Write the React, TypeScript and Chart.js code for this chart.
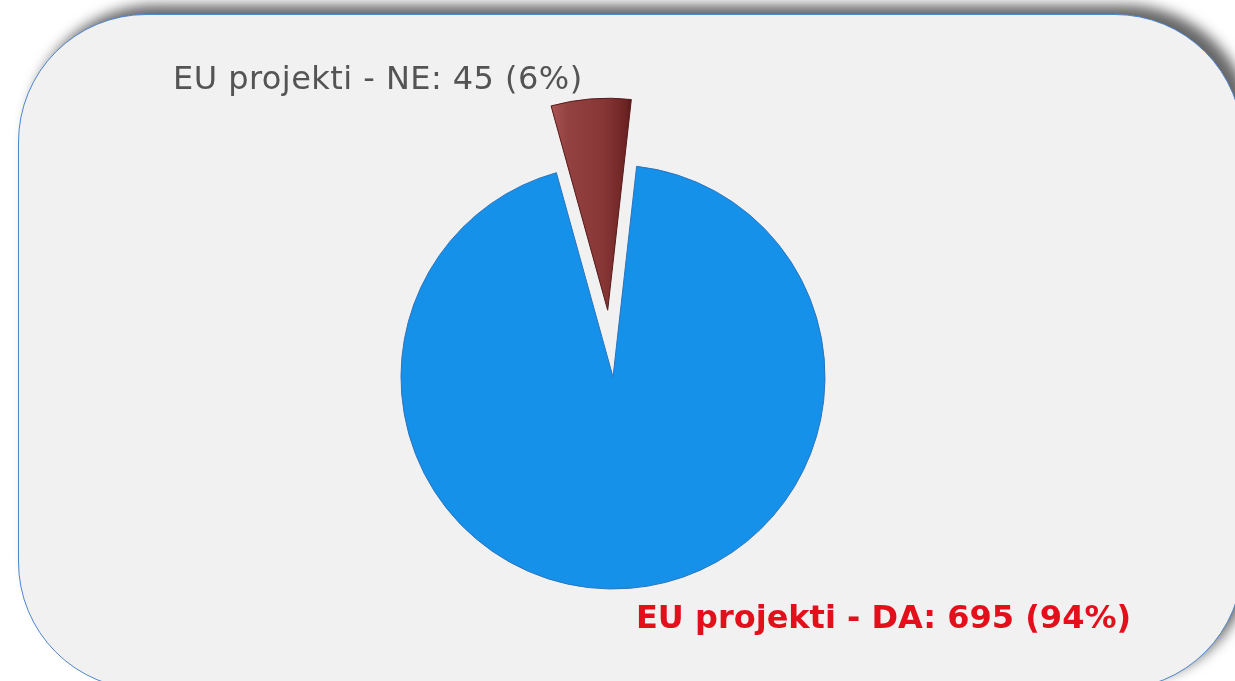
import React, { useEffect, useRef } from "react";
import { Chart, registerables } from "chart.js";

Chart.register(...registerables);

// ---- data ----
const categories: string[] = ["EU projekti - DA", "EU projekti - NE"];
const values: number[] = [695, 45];
const sliceColors: string[] = ["#1591ea", "#8c3a3a"];
const sliceBorders: string[] = ["#2a73be", "#561818"];
const labelColors: string[] = ["#e3101c", "#545454"];
const labelBold: boolean[] = [true, false];
const labelSpacing: string[] = ["0px", "0.45px"];
const explodeDistance: number[] = [0, 67];

// ---- layout / style ----
const W = 1235;
const H = 681;
const PIE_RADIUS = 212;
const START_ROTATION = 6.4;
// label anchor offsets relative to pie centre (left, baseline)
const labelOffsets: [number, number][] = [
  [23, 251],
  [-440, -288.5],
];

const explodePlugin = {
  id: "explodeSlices",
  afterUpdate(chart: any) {
    const meta = chart.getDatasetMeta(0);
    meta.data.forEach((arc: any, i: number) => {
      const d = explodeDistance[i] || 0;
      if (!d) return;
      const mid = (arc.startAngle + arc.endAngle) / 2;
      arc.x += Math.cos(mid) * d;
      arc.y += Math.sin(mid) * d;
    });
  },
};

const labelPlugin = {
  id: "sliceLabels",
  afterDatasetsDraw(chart: any) {
    const { ctx, chartArea } = chart;
    const cx = (chartArea.left + chartArea.right) / 2;
    const cy = (chartArea.top + chartArea.bottom) / 2;
    const total = values.reduce((a, b) => a + b, 0);
    values.forEach((v, i) => {
      ctx.save();
      ctx.textAlign = "left";
      ctx.textBaseline = "alphabetic";
      const pct = Math.round((v / total) * 100);
      const text = `${categories[i]}: ${v} (${pct}%)`;
      ctx.font = `${labelBold[i] ? "bold " : ""}32px "DejaVu Sans", Verdana, sans-serif`;
      try {
        (ctx as any).letterSpacing = labelSpacing[i];
      } catch (e) {
        /* ignore */
      }
      ctx.fillStyle = labelColors[i];
      ctx.fillText(text, cx + labelOffsets[i][0], cy + labelOffsets[i][1]);
      ctx.restore();
    });
  },
};

function redGradient(c: any) {
  const { chart } = c;
  const area = chart.chartArea;
  if (!area) return sliceColors[1];
  const cx = (area.left + area.right) / 2;
  const g = chart.ctx.createLinearGradient(cx - 58, 0, cx + 22, 0);
  g.addColorStop(0, "#a65050");
  g.addColorStop(0.15, "#934141");
  g.addColorStop(0.6, "#883636");
  g.addColorStop(0.88, "#6e2424");
  g.addColorStop(1, "#4e1212");
  return g;
}

export default function App() {
  const canvasRef = useRef<HTMLCanvasElement | null>(null);

  useEffect(() => {
    if (!canvasRef.current) return;
    const chart = new Chart(canvasRef.current, {
      type: "pie",
      data: {
        labels: categories,
        datasets: [
          {
            data: values,
            backgroundColor: (c: any) =>
              c.dataIndex === 1 ? redGradient(c) : sliceColors[c.dataIndex],
            borderColor: sliceBorders,
            borderWidth: 1,
          },
        ],
      },
      options: {
        responsive: false,
        animation: false,
        devicePixelRatio: 1,
        events: [],
        radius: PIE_RADIUS,
        rotation: START_ROTATION,
        layout: { padding: { left: 0, right: 9, top: 73, bottom: 0 } },
        plugins: {
          legend: { display: false },
          tooltip: { enabled: false },
        },
      } as any,
      plugins: [explodePlugin, labelPlugin],
    });
    return () => chart.destroy();
  }, []);

  return (
    <div
      style={{
        position: "fixed",
        left: 0,
        top: 0,
        width: W,
        height: H,
        overflow: "hidden",
        background: "#ffffff",
      }}
    >
      <div
        style={{
          position: "absolute",
          left: 18,
          top: 14,
          width: 1225,
          height: 676,
          boxSizing: "border-box",
          borderRadius: 128,
          background: "#f1f1f1",
          border: "1.5px solid #4f86cf",
          boxShadow: "10px -9px 13px rgba(0,0,0,0.6)",
        }}
      />
      <canvas
        ref={canvasRef}
        width={W}
        height={H}
        style={{ position: "absolute", left: 0, top: 0, width: W, height: H }}
      />
    </div>
  );
}
